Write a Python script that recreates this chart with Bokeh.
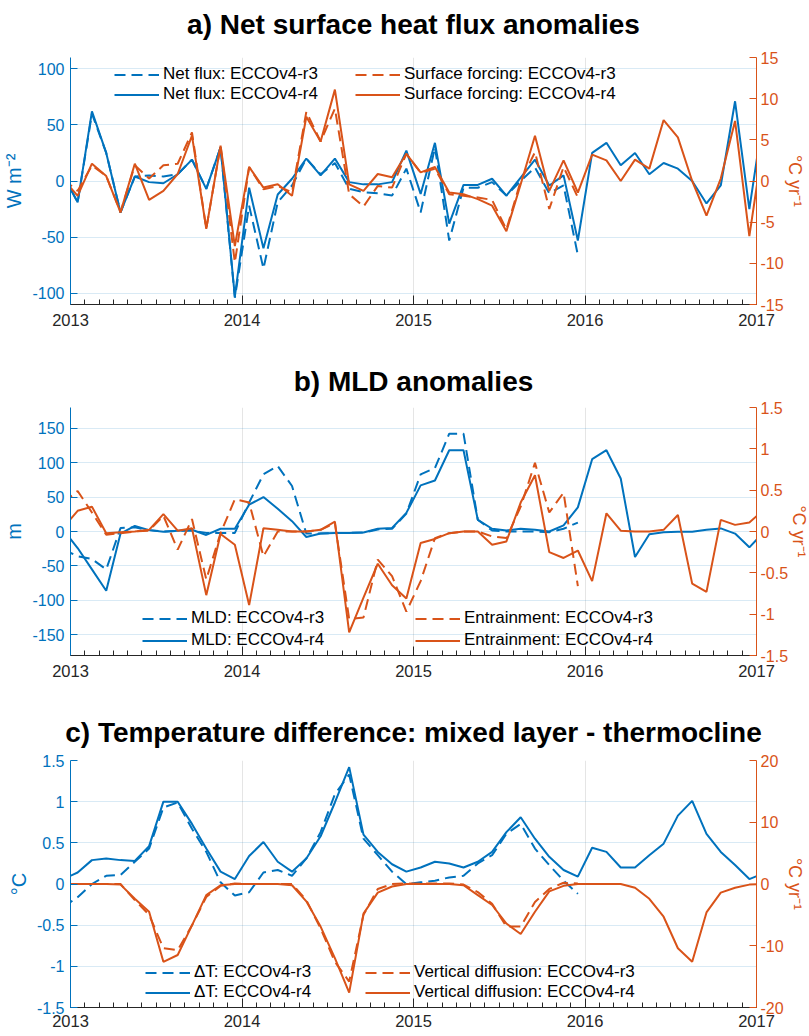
from bokeh.plotting import figure
from bokeh.models import Range1d, LinearAxis, FixedTicker, Legend, LegendItem
from bokeh.layouts import column
from bokeh.embed import file_html
from bokeh.resources import INLINE

BLUE = "#0072BD"
ORANGE = "#D95319"
DARK = "#262626"
FONT = "Liberation Sans"

# ---- time axis: monthly mid-points, Dec 2012 .. Jan 2017 ----
years = [2012] + [y for y in range(2013, 2017) for _ in range(12)] + [2017]
month_no = [12] + list(range(1, 13)) * 4 + [1]
t_r4 = [y + (m - 0.5) / 12 for y, m in zip(years, month_no)]
t_r3 = t_r4[:37]          # ECCOv4-r3 ends Dec 2015

year_ticks = [2013, 2014, 2015, 2016, 2017]

# ---- a) Net surface heat flux (W m-2) and surface forcing (degC/yr) ----
net_flux_r4 = [5, -19, 62, 25, -28, 4, -1, -2, 6, 19, -7, 30, -103,
               -6, -60, -12, 2, 20, 5, 20, -1, -3, -3, -1, 27,
               -11.5, 34, -38, -3.5, -3.5, 2, -13, 3, 19, -4, 5, -53,
               25, 34, 14, 25, 6, 16, 11, 0, -20, -4, 71, -25, 60]
net_flux_r3 = [5, -19, 60, 25, -28, 4, 5, 4, 6, 19, -7, 30, -104,
               -22, -78, -19, -4, 20, 6, 16, -7, -10, -11, -13, 11,
               -28, 30, -53, -6, -6, -1, -13, 0, 12, -11, -4, -66]
surf_r4 = [0.2, -1.8, 2.1, 0.6, -3.8, 2.1, -2.3, -1.2, 0.85, 5.5, -5.8, 4.3, -7.9,
           1.7, -0.8, -0.4, -1.8, 7.8, 4.8, 11.1, -0.4, -1.2, 0.85, 0.45, 3.3,
           1.05, 1.7, -1.4, -1.6, -2.2, -3.0, -6.1, -0.4, 5.5, -1.2, 2.5, -1.4,
           3.2, 2.5, 0, 2.6, 1.5, 7.4, 5.3, 0, -4.2, 0.3, 7.3, -6.7, 5]
surf_r3 = [0.2, -1.2, 1.9, 0.6, -3.8, 1.9, 0.3, 1.9, 2.1, 5.9, -5.8, 4.3, -9.9,
           1.7, -1.0, -0.6, -1.4, 8.4, 4.8, 8.8, -1.6, -3.1, -0.6, -0.8, 3.3,
           1.0, 1.5, -1.6, -1.8, -2.0, -2.3, -5.9, 0.0, 3.5, -3.4, 1.7, -2.0]

# ---- b) MLD anomalies (m) and entrainment (degC/yr) ----
mld_r4 = [2, -24, -55, -86, -3, 8, 2, -0.5, 1, 2.5, -5, 4, 4,
          39, 50, 33, 15, -8, -3, -2, -2, -1.5, 4, 5, 27,
          67, 74, 118, 118, 17, 4, 1.5, 4, 2.5, 0, 9, 35,
          105, 118, 77, -37, -4, -1, -0.5, -0.5, 2.5, 4.5, -3, -23, -1]
mld_r3 = [-26, -36, -40, -55, 5, 6, 2, 0, 1, 1, -2, -2, -2,
          42, 83, 95, 66, -3, -3, -2, -2, -1.5, 3, 4, 26,
          83, 92, 142, 142, 17, 1.5, 0, 0, 0, -1, 4, 13]
entr_r4 = [0.05, 0.25, 0.3, -0.02, -0.01, 0, 0.02, 0.21, 0.01, 0.04, -0.77, -0.03, -0.16,
           -0.89, 0.04, 0.02, 0, 0, 0.02, 0.12, -1.22, -0.8, -0.39, -0.65, -0.81,
           -0.14, -0.09, -0.02, 0, 0, -0.16, -0.12, 0.35, 0.68, -0.25, -0.32, -0.23,
           -0.6, 0.22, 0.01, 0, 0, 0.02, 0.2, -0.63, -0.73, 0.14, 0.08, 0.11, 0.26]
entr_r3 = [0.35, 0.49, 0.23, -0.04, -0.02, 0, 0.01, 0.19, -0.22, 0.15, -0.58, -0.02, 0.39,
           0.35, -0.3, 0, 0, 0, 0.02, 0.1, -1.06, -1.04, -0.34, -0.54, -0.97,
           -0.6, -0.08, -0.02, 0, 0, -0.06, -0.08, 0.3, 0.83, 0.23, 0.47, -0.66]

# ---- c) Temperature difference (degC) and vertical diffusion (degC/yr) ----
dT_r4 = [0.06, 0.14, 0.29, 0.31, 0.29, 0.28, 0.46, 1.0, 1.0, 0.73, 0.43, 0.15, 0.06,
         0.34, 0.51, 0.27, 0.15, 0.31, 0.58, 0.99, 1.42, 0.6, 0.39, 0.24, 0.15,
         0.2, 0.27, 0.25, 0.2, 0.27, 0.39, 0.63, 0.81, 0.55, 0.33, 0.17, 0.09,
         0.44, 0.39, 0.2, 0.2, 0.35, 0.49, 0.83, 1.01, 0.61, 0.39, 0.23, 0.06, 0.13]
dT_r3 = [-0.28, -0.16, 0.0, 0.1, 0.11, 0.27, 0.43, 0.93, 0.99, 0.67, 0.39, 0.02, -0.14,
         -0.1, 0.14, 0.17, 0.1, 0.31, 0.63, 1.09, 1.33, 0.55, 0.35, 0.15, 0.0,
         0.02, 0.04, 0.08, 0.1, 0.25, 0.35, 0.61, 0.73, 0.43, 0.23, 0.04, -0.12]
vd_r4 = [0, 0, 0, 0, -0.1, -2.4, -4.5, -12.6, -11.5, -6.7, -1.8, -0.2, 0,
         0, 0, 0, -0.2, -2.8, -6.9, -12, -17.6, -4.8, -1.4, -0.4, 0,
         0, 0, 0, -0.2, -1.8, -3.4, -6.4, -8.1, -4.5, -1.2, -0.3, 0,
         0, 0, 0, -0.6, -2.4, -5.3, -10.4, -12.6, -4.6, -1.4, -0.6, -0.1, 0]
vd_r3 = [0, 0, 0, 0, 0, -2.6, -5, -10.4, -10.7, -6.7, -2.1, -0.3, 0.1,
         0, 0, 0, 0, -2.6, -7.2, -12.6, -15.8, -5, -0.8, 0, 0.1,
         0.05, 0.1, 0.1, -0.1, -1.3, -3.2, -6.9, -6.9, -2.9, -0.8, 0.2, 0.1]

titles = ["a) Net surface heat flux anomalies",
          "b) MLD anomalies",
          "c) Temperature difference: mixed layer - thermocline"]


def fmt(v):
    return "%g" % v


def title_fig(text, standoff):
    """A strip with a 1-px invisible frame that only carries a panel title."""
    t = figure(frame_width=686, frame_height=1,
               min_border_left=68, min_border_right=55,
               min_border_top=0, min_border_bottom=0,
               x_range=Range1d(0, 1), y_range=Range1d(0, 1),
               x_axis_location=None, y_axis_location=None,
               output_backend="svg", toolbar_location=None, tools="")
    t.outline_line_color = None
    t.grid.visible = False
    t.background_fill_color = "white"
    t.border_fill_color = "white"
    t.title.text = text
    t.title.align = "center"
    t.title.text_font = FONT
    t.title.text_font_size = "28px"
    t.title.text_font_style = "bold"
    t.title.text_color = "black"
    t.title.standoff = standoff
    return t


def panel(ylim_l, ticks_l, ylim_r, ticks_r, lab_l, lab_r,
          b3, b4, o3, o4, names, leg_pos, spacing, top, bottom, fh, xstand):
    p = figure(frame_width=686, frame_height=fh,
               min_border_left=68, min_border_right=55,
               min_border_top=top, min_border_bottom=bottom,
               x_range=Range1d(2013, 2017), y_range=Range1d(*ylim_l),
               output_backend="svg", toolbar_location=None, tools="")
    p.outline_line_color = None
    p.background_fill_color = "white"
    p.border_fill_color = "white"

    # x axis
    xt = FixedTicker(ticks=year_ticks, minor_ticks=[2013 + k / 12 for k in range(49)])
    xa = p.xaxis[0]
    xa.ticker = xt
    xa.major_label_overrides = {y: str(y) for y in year_ticks}
    xa.major_tick_in = 9
    xa.major_tick_out = 0
    xa.minor_tick_in = 5
    xa.minor_tick_out = 0
    xa.axis_line_color = DARK
    xa.major_tick_line_color = DARK
    xa.minor_tick_line_color = DARK
    xa.major_label_text_color = DARK
    xa.major_label_text_font = FONT
    xa.major_label_text_font_size = "16.5px"
    xa.major_label_standoff = xstand

    # left axis
    lt = FixedTicker(ticks=ticks_l, minor_ticks=[])
    la = p.yaxis[0]
    la.ticker = lt
    la.major_label_overrides = {v: fmt(v) for v in ticks_l}
    la.axis_label = lab_l
    # right axis
    p.extra_y_ranges = {"r": Range1d(*ylim_r)}
    ra = LinearAxis(y_range_name="r", ticker=FixedTicker(ticks=ticks_r, minor_ticks=[]))
    ra.major_label_overrides = {v: fmt(v) for v in ticks_r}
    ra.axis_label = lab_r
    p.add_layout(ra, "right")
    for a, c in ((la, BLUE), (ra, ORANGE)):
        a.axis_line_color = c
        a.major_tick_line_color = c
        a.major_label_text_color = c
        a.axis_label_text_color = c
        a.major_tick_in = 7
        a.major_tick_out = 0
        a.minor_tick_line_color = None
        a.major_label_text_font = FONT
        a.major_label_text_font_size = "16px"
        a.axis_label_text_font = FONT
        a.axis_label_text_font_style = "normal"
        a.major_label_standoff = 6
    la.axis_label_text_font_size = "20px"
    la.axis_label_standoff = 4
    ra.axis_label_text_font_size = "18px"
    ra.axis_label_standoff = -2
    ra.major_label_standoff = 4

    p.xgrid.ticker = xt
    p.xgrid.grid_line_color = DARK
    p.xgrid.grid_line_alpha = 0.12
    p.ygrid.ticker = lt
    p.ygrid.grid_line_color = BLUE
    p.ygrid.grid_line_alpha = 0.15

    rb3 = p.line(t_r3, b3, line_color=BLUE, line_width=2, line_dash="11 6")
    rb4 = p.line(t_r4, b4, line_color=BLUE, line_width=2)
    ro3 = p.line(t_r3, o3, line_color=ORANGE, line_width=2, line_dash="11 6", y_range_name="r")
    ro4 = p.line(t_r4, o4, line_color=ORANGE, line_width=2, y_range_name="r")

    for rends, labs, pos in (((rb3, rb4), names[:2], leg_pos[0]),
                              ((ro3, ro4), names[2:], leg_pos[1])):
        leg = Legend(items=[LegendItem(label=l, renderers=[r]) for l, r in zip(labs, rends)],
                     location=pos, orientation="vertical")
        leg.label_text_font = FONT
        leg.label_text_font_size = "17px"
        leg.label_text_color = "black"
        leg.glyph_width = 45
        leg.glyph_height = 17
        leg.label_height = 17
        leg.label_standoff = 4
        leg.spacing = spacing
        leg.padding = 0
        leg.margin = 0
        leg.border_line_color = None
        leg.background_fill_alpha = 0
        p.add_layout(leg)
    return p


ta = title_fig(titles[0], 12)
pa = panel((-110, 110), [-100, -50, 0, 50, 100],
           (-15, 15), [-15, -10, -5, 0, 5, 10, 15], "W m\u207b\u00b2", "\u00b0C yr\u207b\u00b9",
           net_flux_r3, net_flux_r4, surf_r3, surf_r4,
           ["Net flux: ECCOv4-r3", "Net flux: ECCOv4-r4",
            "Surface forcing: ECCOv4-r3", "Surface forcing: ECCOv4-r4"],
           [(44, 200), (285, 200)], 0, 11, 57, 247, 9)

tb = title_fig(titles[1], 4)
pb = panel((-180, 180), [-150, -100, -50, 0, 50, 100, 150],
           (-1.5, 1.5), [-1.5, -1, -0.5, 0, 0.5, 1, 1.5], "m", "\u00b0C yr\u207b\u00b9",
           mld_r3, mld_r4, entr_r3, entr_r4,
           ["MLD: ECCOv4-r3", "MLD: ECCOv4-r4",
            "Entrainment: ECCOv4-r3", "Entrainment: ECCOv4-r4"],
           [(72, 5), (345, 5)], 2, 8, 57, 248, 9)

tc = title_fig(titles[2], 4)
pc = panel((-1.5, 1.5), [-1.5, -1, -0.5, 0, 0.5, 1, 1.5],
           (-20, 20), [-20, -10, 0, 10, 20], "\u00b0C", "\u00b0C yr\u207b\u00b9",
           dT_r3, dT_r4, vd_r3, vd_r4,
           ["\u0394T: ECCOv4-r3", "\u0394T: ECCOv4-r4",
            "Vertical diffusion: ECCOv4-r3", "Vertical diffusion: ECCOv4-r4"],
           [(75, 5), (295, 5)], -2, 10, 27, 247, 7)

layout = column(ta, pa, tb, pb, tc, pc, spacing=0)
open("out.html", "w").write(file_html(layout, INLINE))
